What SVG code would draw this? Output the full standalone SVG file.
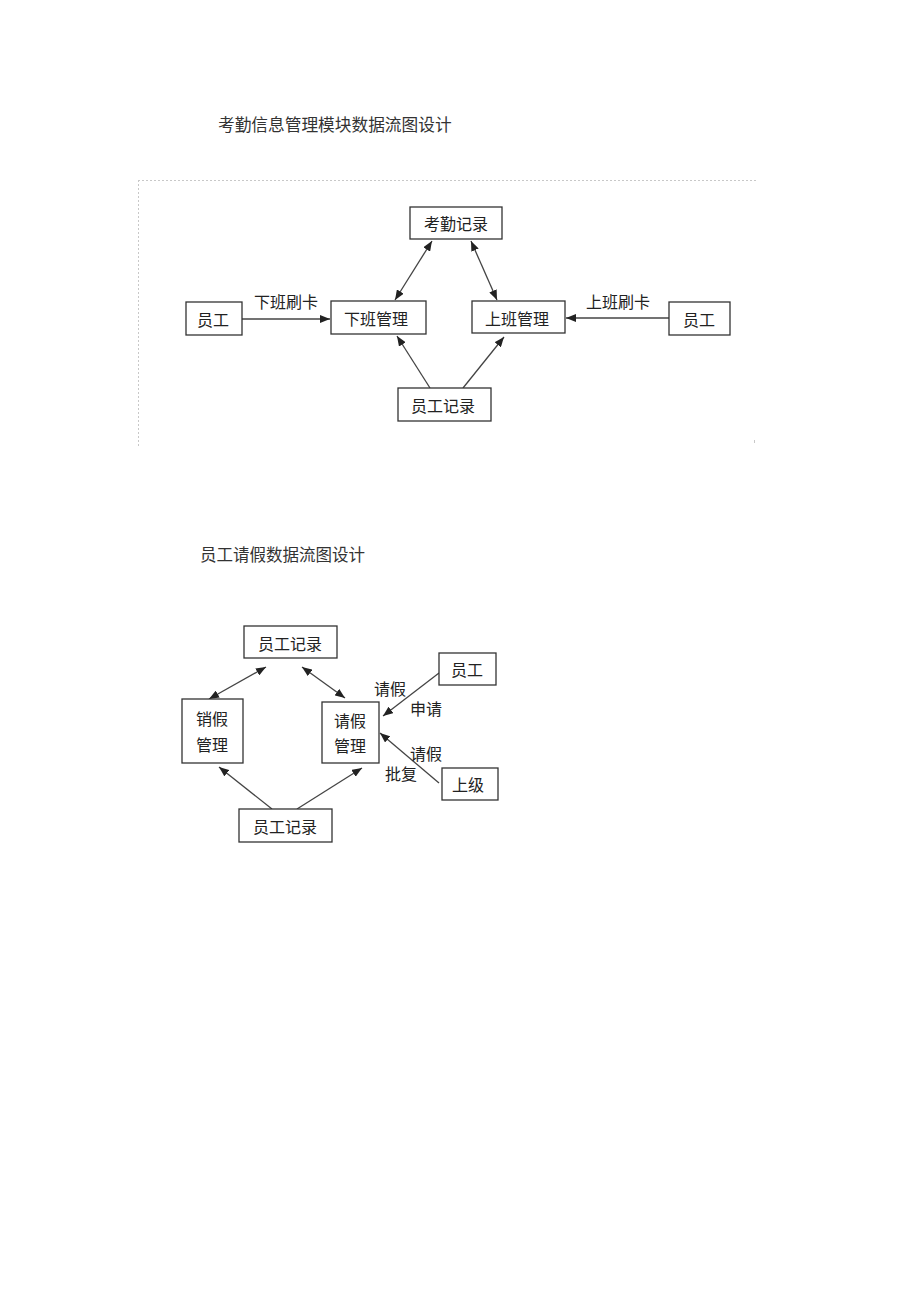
<svg xmlns="http://www.w3.org/2000/svg" width="920" height="1303" viewBox="0 0 920 1303">
<style>
.title{font-family:"Noto Sans CJK SC","Liberation Serif",serif;font-size:16.7px;fill:#333;}
.t{font-family:"Noto Sans CJK SC","Liberation Sans",sans-serif;font-size:16px;fill:#222;text-anchor:middle;dominant-baseline:central;}
.box{fill:#fff;stroke:#333;stroke-width:1.3;}
.ln{stroke:#444;stroke-width:1.3;fill:none;}
.frame{stroke:#c8c8c8;stroke-width:1;stroke-dasharray:2 2;fill:none;}
</style>
<defs>
<marker id="ah" viewBox="0 0 10 8" refX="10" refY="4" markerWidth="10" markerHeight="8" markerUnits="userSpaceOnUse" orient="auto-start-reverse">
<path d="M0,0 L10,4 L0,8 z" fill="#222"/>
</marker>
</defs>
<rect width="920" height="1303" fill="#fff"/>

<text class="title" x="218" y="131">考勤信息管理模块数据流图设计</text>
<g id="frame">
<path class="frame" d="M138,180.5 H757 M138.5,180 V447"/>
<rect x="754" y="440" width="1" height="3" fill="#c8c8c8"/>
</g>

<g id="connectors1">
<line class="ln" x1="242" y1="319" x2="330" y2="319" marker-end="url(#ah)"/>
<line class="ln" x1="669" y1="318" x2="566" y2="318" marker-end="url(#ah)"/>
<line class="ln" x1="432" y1="241" x2="395" y2="300" marker-start="url(#ah)" marker-end="url(#ah)"/>
<line class="ln" x1="471" y1="241" x2="497" y2="300" marker-start="url(#ah)" marker-end="url(#ah)"/>
<line class="ln" x1="430" y1="388" x2="397" y2="336" marker-end="url(#ah)"/>
<line class="ln" x1="463" y1="388" x2="504" y2="337" marker-end="url(#ah)"/>
</g>
<g id="labels1">
<text class="t" x="286" y="301">下班刷卡</text>
<text class="t" x="618" y="301">上班刷卡</text>
</g>
<g id="n-kaoqin"><rect class="box" x="410" y="207" width="92" height="32"/><text class="t" x="456" y="223">考勤记录</text></g>
<g id="n-xiaban"><rect class="box" x="331" y="301" width="95" height="33"/><text class="t" x="376" y="318">下班管理</text></g>
<g id="n-shangban"><rect class="box" x="472" y="301" width="93" height="32"/><text class="t" x="517" y="318">上班管理</text></g>
<g id="n-yg1"><rect class="box" x="186" y="302" width="56" height="33"/><text class="t" x="213" y="319">员工</text></g>
<g id="n-yg2"><rect class="box" x="669" y="302" width="61" height="33"/><text class="t" x="699" y="319">员工</text></g>
<g id="n-ygjl1"><rect class="box" x="398" y="388" width="93" height="33"/><text class="t" x="443" y="405">员工记录</text></g>

<text class="title" x="200" y="561" style="font-size:16.5px">员工请假数据流图设计</text>

<g id="connectors2">
<line class="ln" x1="266" y1="667" x2="209" y2="699" marker-start="url(#ah)" marker-end="url(#ah)"/>
<line class="ln" x1="302" y1="667" x2="345" y2="698" marker-start="url(#ah)" marker-end="url(#ah)"/>
<line class="ln" x1="439" y1="673" x2="383" y2="716" marker-end="url(#ah)"/>
<line class="ln" x1="439" y1="783" x2="380" y2="733" marker-end="url(#ah)"/>
<line class="ln" x1="272" y1="809" x2="219" y2="767" marker-end="url(#ah)"/>
<line class="ln" x1="297" y1="809" x2="362" y2="768" marker-end="url(#ah)"/>
</g>
<g id="labels2">
<text class="t" x="390" y="688">请假</text>
<text class="t" x="426" y="708">申请</text>
<text class="t" x="426" y="753">请假</text>
<text class="t" x="401" y="773">批复</text>
</g>
<g id="n-ygjl2"><rect class="box" x="244" y="626" width="93" height="32"/><text class="t" x="290" y="643">员工记录</text></g>
<g id="n-xiaojia"><rect class="box" x="182" y="699" width="61" height="64"/><text class="t" x="212" y="718">销假</text><text class="t" x="212" y="744">管理</text></g>
<g id="n-qingjia"><rect class="box" x="322" y="702" width="57" height="61"/><text class="t" x="350" y="720">请假</text><text class="t" x="350" y="745">管理</text></g>
<g id="n-yg3"><rect class="box" x="439" y="653" width="57" height="32"/><text class="t" x="467" y="669">员工</text></g>
<g id="n-shangji"><rect class="box" x="442" y="768" width="56" height="32"/><text class="t" x="468" y="784">上级</text></g>
<g id="n-ygjl3"><rect class="box" x="239" y="809" width="93" height="33"/><text class="t" x="285" y="826">员工记录</text></g>
</svg>
